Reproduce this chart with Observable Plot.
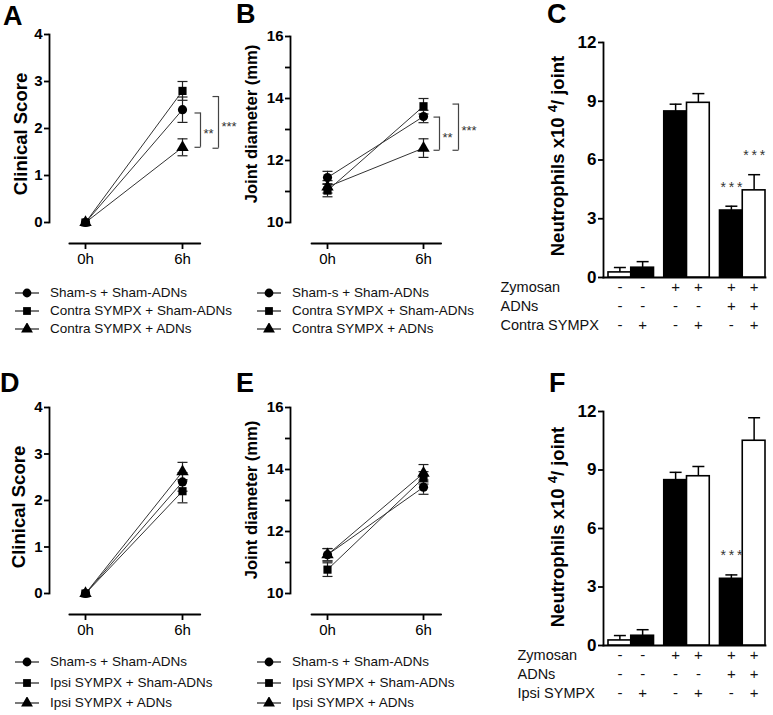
<!DOCTYPE html>
<html><head><meta charset="utf-8">
<script src="https://cdn.jsdelivr.net/npm/d3@7"></script>
<script src="https://cdn.jsdelivr.net/npm/@observablehq/plot@0.6"></script>
<style>
body{margin:0;background:#fff;}
#root{position:relative;width:773px;height:715px;overflow:hidden;font-family:"Liberation Sans",Arial,sans-serif;color:#000;background:#fff;}
.pl{position:absolute;}
.letter{position:absolute;font-weight:bold;font-size:27px;line-height:26px;}
.leg{position:absolute;font-size:13.5px;line-height:16px;white-space:nowrap;color:#111;}
.ico{position:absolute;}
.ylab{position:absolute;font-weight:bold;white-space:nowrap;text-align:center;width:300px;height:24px;line-height:24px;transform:rotate(-90deg);transform-origin:50% 50%;}
.ylab .sup{font-size:13px;position:relative;top:-7px;}
</style></head><body><div id="root"></div>
<script>
// ---------------- data ----------------
const timepoints = [0, 6];
const axisExtentHours = [-1, 7.1];
const groupsTop = ["Sham-s + Sham-ADNs", "Contra SYMPX + Sham-ADNs", "Contra SYMPX + ADNs"];
const groupsBottom = ["Sham-s + Sham-ADNs", "Ipsi SYMPX + Sham-ADNs", "Ipsi SYMPX + ADNs"];
const groupSymbols = ["circle", "square", "triangle"];

// means per group at [0h, 6h] and SEM
const scoreA = [[0, 2.4], [0, 2.8], [0, 1.6]];
const scoreAErr = [[0, 0.27], [0, 0.2], [0, 0.18]];
const diamB = [[11.45, 13.42], [11.03, 13.75], [11.15, 12.4]];
const diamBErr = [[0.2, 0.2], [0.2, 0.25], [0.2, 0.3]];
const scoreD = [[0, 2.4], [0, 2.2], [0, 2.62]];
const scoreDErr = [[0, 0.2], [0, 0.25], [0, 0.2]];
const diamE = [[11.25, 13.43], [10.77, 13.73], [11.25, 13.88]];
const diamEErr = [[0.2, 0.23], [0.22, 0.2], [0.2, 0.28]];

// significance brackets (value range spanned, label)
const bracketsA = [{y1: 2.33, y2: 1.6, label: "**"}, {y1: 2.68, y2: 1.58, label: "***"}];
const bracketsB = [{y1: 13.4, y2: 12.33, label: "**"}, {y1: 13.82, y2: 12.33, label: "***"}];

// bar panels
const barFill = ["white", "black", "black", "white", "black", "white"];
const zymosan = ["-", "-", "+", "+", "+", "+"];
const adns = ["-", "-", "-", "-", "+", "+"];
const sympx = ["-", "+", "-", "+", "-", "+"];
const neutroC = [0.26, 0.5, 8.48, 8.92, 3.42, 4.45];
const neutroCErr = [0.25, 0.31, 0.37, 0.47, 0.22, 0.8];
const neutroF = [0.26, 0.5, 8.48, 8.68, 3.42, 10.5];
const neutroFErr = [0.25, 0.31, 0.4, 0.5, 0.2, 1.18];
const starsC = ["", "", "", "", "***", "***"];
const starsF = ["", "", "", "", "***", ""];
const rowLabelsC = ["Zymosan", "ADNs", "Contra SYMPX"];
const rowLabelsF = ["Zymosan", "ADNs", "Ipsi SYMPX"];

const labelScore = ["Clinical Score"];
const labelDiam = ["Joint diameter (mm)"];
const labelNeutro = ["Neutrophils x10 ", "4", "/ joint"];

// ---------------- helpers ----------------
const FONT = '"Liberation Sans", Arial, sans-serif';
const root = document.getElementById("root");
const hcap = {draw(ctx, size) { const r = Math.sqrt(size / Math.PI); ctx.moveTo(-r, 0); ctx.lineTo(r, 0); }};
const ltick = {draw(ctx, size) { const r = Math.sqrt(size / Math.PI); ctx.moveTo(-r, 0); ctx.lineTo(0, 0); }};
const AXW = 1.8;

function place(node, left, top) {
  const d = document.createElement("div");
  d.className = "pl"; d.style.left = left + "px"; d.style.top = top + "px";
  d.appendChild(node); root.appendChild(d);
}

function ylab(parts, cx, cy, size) {
  const d = document.createElement("div");
  d.className = "ylab";
  parts.forEach((p, i) => {
    const s = document.createElement("span");
    s.textContent = p;
    if (i === 1) s.className = "sup";
    d.appendChild(s);
  });
  d.style.fontSize = size + "px";
  d.style.left = (cx - 150) + "px"; d.style.top = (cy - 12) + "px";
  root.appendChild(d);
}

function linePanel(c) {
  const rows = [];
  c.groups.forEach((g, gi) => timepoints.forEach((t, ti) => rows.push({g, t, v: c.means[gi][ti], e: c.errs[gi][ti]})));
  const withErr = rows.filter(d => d.e > 0);
  const marks = [
    Plot.frame({anchor: "left", strokeWidth: AXW}),
    Plot.axisY({ticks: c.yTicks, tickFormat: d => c.yLabeled.includes(d) ? String(d) : "", tickSize: 5, tickPadding: 2,
      fontSize: c.tickFont, fontWeight: "bold", strokeWidth: AXW, label: null}),
    Plot.axisX({ticks: timepoints, tickFormat: d => d + "h", tickSize: 6, tickPadding: 4, dy: c.xAxisDy,
      fontSize: 15, strokeWidth: AXW, label: null}),
    Plot.line(axisExtentHours, {x: d => d, y: () => c.yDomain[0], dy: c.xAxisDy, stroke: "black", strokeWidth: AXW}),
    Plot.line(rows, {x: "t", y: "v", z: "g", stroke: "#333", strokeWidth: 1}),
    Plot.ruleX(withErr, {x: "t", y1: d => d.v - d.e, y2: d => d.v + d.e, stroke: "#222", strokeWidth: 1.2}),
    Plot.dot(withErr, {x: "t", y: d => d.v + d.e, symbol: hcap, r: 5, stroke: "#222", fill: "none", strokeWidth: 1.2}),
    Plot.dot(withErr, {x: "t", y: d => d.v - d.e, symbol: hcap, r: 5, stroke: "#222", fill: "none", strokeWidth: 1.2}),
    Plot.dot(rows, {x: "t", y: "v", symbol: "g", fill: "black", stroke: "none", r: 4.6})
  ];
  (c.brackets || []).forEach((b, k) => {
    const off = c.bracketDx[k];
    marks.push(Plot.ruleX([b], {x: () => 6, y1: "y1", y2: "y2", dx: off, stroke: "#444", strokeWidth: 1.2}));
    marks.push(Plot.dot([b], {x: () => 6, y: "y1", symbol: ltick, r: 6, dx: off, stroke: "#444", fill: "none", strokeWidth: 1.2}));
    marks.push(Plot.dot([b], {x: () => 6, y: "y2", symbol: ltick, r: 6, dx: off, stroke: "#444", fill: "none", strokeWidth: 1.2}));
    marks.push(Plot.text([b], {x: () => 6, y: d => (d.y1 + d.y2) / 2, text: "label", dx: off + 3, dy: 4, textAnchor: "start", fontSize: 13, fill: "#333"}));
  });
  const svg = Plot.plot({
    width: c.width, height: c.height,
    marginLeft: c.marginLeft, marginTop: c.marginTop, marginBottom: c.height - c.yBottom, marginRight: 4,
    x: {domain: [0, 6], range: c.xRange},
    y: {domain: c.yDomain},
    symbol: {domain: c.groups, range: groupSymbols},
    style: {fontFamily: FONT, background: "transparent", overflow: "visible", color: "black"},
    marks
  });
  place(svg, c.left, c.top);
  ylab(c.yLabel, c.yLabelX, c.yLabelY, c.yLabelFont);
}

function barPanel(c) {
  const gap = 0.45;
  const rows = c.values.map((v, i) => ({i, v, e: c.errs[i], fill: barFill[i], s: c.stars[i],
    p: Math.floor(i / 2) * (2 + gap) + (i % 2)}));
  const span = 2 * (2 + gap) + 2;
  const signRows = [zymosan, adns, sympx];
  const rowDy = [14, 33, 52];
  const marks = [
    Plot.frame({anchor: "left", strokeWidth: AXW}),
    Plot.frame({anchor: "bottom", strokeWidth: AXW}),
    Plot.axisY({ticks: [0, 3, 6, 9, 12], tickSize: 5, tickPadding: 2, fontSize: 17, fontWeight: "bold", strokeWidth: AXW, label: null}),
    Plot.ruleX(rows, {x: d => d.p + 0.5, y1: "v", y2: d => d.v + d.e, stroke: "black", strokeWidth: 1.5}),
    Plot.dot(rows, {x: d => d.p + 0.5, y: d => d.v + d.e, symbol: hcap, r: 6, stroke: "black", fill: "none", strokeWidth: 1.5}),
    Plot.rect(rows, {x1: "p", x2: d => d.p + 1, y1: () => 0, y2: "v", fill: "fill", stroke: "black", strokeWidth: 1.6}),
    Plot.text(rows.filter(d => d.s), {x: d => d.p + 0.5, y: d => d.v + d.e, text: d => d.s.split("").join("\u2009"),
      dy: -19, fontSize: 14, fill: "#333"})
  ];
  signRows.forEach((arr, r) => {
    marks.push(Plot.text(rows, {x: d => d.p + 0.5, text: d => arr[d.i], frameAnchor: "bottom", dy: rowDy[r], fontSize: 15, fill: "#111"}));
    marks.push(Plot.text([c.rowLabels[r]], {frameAnchor: "bottom-left", dx: c.rowLabelDx, dy: rowDy[r], textAnchor: "start", fontSize: 14.5, fill: "#111"}));
  });
  const svg = Plot.plot({
    width: c.width, height: c.height,
    marginLeft: c.marginLeft, marginTop: c.marginTop, marginBottom: c.height - c.yBottom, marginRight: c.width - c.xEnd,
    x: {domain: [0, span], range: [c.xStart, c.xEnd], axis: null},
    y: {domain: [0, 12]},
    color: {type: "identity"},
    style: {fontFamily: FONT, background: "transparent", overflow: "visible", color: "black"},
    marks
  });
  place(svg, c.left, c.top);
  ylab(labelNeutro, c.yLabelX, c.yLabelY, 18.5);
}

function legend(groups, iconX, textX, rowsY) {
  const types = [d3.symbolCircle, d3.symbolSquare, d3.symbolTriangle];
  groups.forEach((g, i) => {
    const ns = "http://www.w3.org/2000/svg";
    const s = document.createElementNS(ns, "svg");
    s.setAttribute("width", 26); s.setAttribute("height", 12);
    s.setAttribute("class", "ico");
    s.style.left = iconX + "px"; s.style.top = (rowsY[i] - 6) + "px";
    const ln = document.createElementNS(ns, "line");
    ln.setAttribute("x1", 0); ln.setAttribute("x2", 24); ln.setAttribute("y1", 6); ln.setAttribute("y2", 6);
    ln.setAttribute("stroke", "#222"); ln.setAttribute("stroke-width", 1.2);
    const p = document.createElementNS(ns, "path");
    p.setAttribute("d", d3.symbol(types[i], Math.PI * 4.4 * 4.4)());
    p.setAttribute("transform", "translate(12,6)");
    s.appendChild(ln); s.appendChild(p); root.appendChild(s);
    const t = document.createElement("div");
    t.className = "leg"; t.textContent = g;
    t.style.left = textX + "px"; t.style.top = (rowsY[i] - 8) + "px";
    root.appendChild(t);
  });
}

function letter(txt, left, top) {
  const d = document.createElement("div");
  d.className = "letter"; d.textContent = txt;
  d.style.left = left + "px"; d.style.top = top + "px";
  root.appendChild(d);
}

// ---------------- panels ----------------
linePanel({left: 0, top: 0, width: 240, height: 275, marginLeft: 49, marginTop: 34, yBottom: 222, xAxisDy: 21,
  xRange: [85, 182], yDomain: [0, 4], yTicks: [0, 1, 2, 3, 4], yLabeled: [0, 1, 2, 3, 4], tickFont: 15,
  yLabel: labelScore, yLabelX: 21, yLabelY: 134, yLabelFont: 18.5, groups: groupsTop, means: scoreA, errs: scoreAErr,
  brackets: bracketsA, bracketDx: [18, 36]});
linePanel({left: 240, top: 0, width: 250, height: 275, marginLeft: 50, marginTop: 36, yBottom: 222, xAxisDy: 21,
  xRange: [87, 183], yDomain: [10, 16], yTicks: [10, 11, 12, 13, 14, 15, 16], yLabeled: [10, 12, 14, 16], tickFont: 15,
  yLabel: labelDiam, yLabelX: 252, yLabelY: 124, yLabelFont: 16.6, groups: groupsTop, means: diamB, errs: diamBErr,
  brackets: bracketsB, bracketDx: [16, 35]});
barPanel({left: 500, top: 0, width: 273, height: 345, marginLeft: 103, marginTop: 42, yBottom: 277,
  xStart: 108, xEnd: 265, values: neutroC, errs: neutroCErr, stars: starsC, rowLabels: rowLabelsC, rowLabelDx: -103,
  yLabelX: 558, yLabelY: 156});

linePanel({left: 0, top: 350, width: 240, height: 300, marginLeft: 49, marginTop: 57, yBottom: 243, xAxisDy: 21,
  xRange: [85, 182], yDomain: [0, 4], yTicks: [0, 1, 2, 3, 4], yLabeled: [0, 1, 2, 3, 4], tickFont: 15,
  yLabel: labelScore, yLabelX: 19, yLabelY: 507, yLabelFont: 18.5, groups: groupsBottom, means: scoreD, errs: scoreDErr});
linePanel({left: 240, top: 350, width: 250, height: 300, marginLeft: 50, marginTop: 57, yBottom: 243, xAxisDy: 21,
  xRange: [87, 183], yDomain: [10, 16], yTicks: [10, 11, 12, 13, 14, 15, 16], yLabeled: [10, 12, 14, 16], tickFont: 15,
  yLabel: labelDiam, yLabelX: 252, yLabelY: 500, yLabelFont: 16.6, groups: groupsBottom, means: diamE, errs: diamEErr});
barPanel({left: 500, top: 350, width: 273, height: 365, marginLeft: 103, marginTop: 61, yBottom: 295,
  xStart: 108, xEnd: 265, values: neutroF, errs: neutroFErr, stars: starsF, rowLabels: rowLabelsF, rowLabelDx: -86,
  yLabelX: 558, yLabelY: 527});

legend(groupsTop, 15, 50, [293, 311, 329]);
legend(groupsTop, 257, 292, [293, 311, 329]);
legend(groupsBottom, 15, 50, [662, 682.5, 703]);
legend(groupsBottom, 257, 292, [662, 682.5, 703]);

letter("A", 3, 3); letter("B", 236, 1); letter("C", 547, 1);
letter("D", 0, 370); letter("E", 236, 370); letter("F", 549, 370);
</script></body></html>
